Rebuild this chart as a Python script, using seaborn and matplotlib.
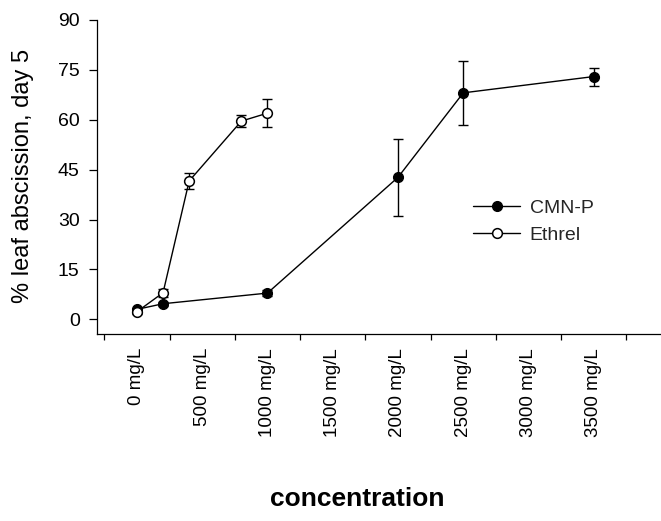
import matplotlib
matplotlib.use("Agg")
import numpy as np
import pandas as pd
import seaborn as sns
import matplotlib.pyplot as plt

# ---- data ----
conc_cmnp = [0, 200, 1000, 2000, 2500, 3500]
abs_cmnp = [3.0, 4.7, 7.9, 42.7, 68.1, 73.0]
err_cmnp = [0.5, 0.6, 0.8, 11.5, 9.7, 2.7]

conc_eth = [0, 200, 400, 800, 1000]
abs_eth = [2.3, 8.0, 41.6, 59.6, 62.0]
err_eth = [0.8, 1.2, 2.3, 1.9, 4.3]

x_tick_values = [0, 500, 1000, 1500, 2000, 2500, 3000, 3500]
x_tick_labels = ["0 mg/L", "500 mg/L", "1000 mg/L", "1500 mg/L",
                 "2000 mg/L", "2500 mg/L", "3000 mg/L", "3500 mg/L"]
y_tick_values = [0, 15, 30, 45, 60, 75, 90]

sns.set_theme(style="ticks")
plt.rcParams["font.family"] = ["Liberation Sans", "DejaVu Sans"]

W, H = 661, 521
fig = plt.figure(figsize=(W / 100, H / 100), dpi=100)
ax = fig.add_axes([97 / W, 1 - 334 / H, 564 / W, 314 / H])

# error bars
ax.errorbar(conc_cmnp, abs_cmnp, yerr=err_cmnp, fmt="none", ecolor="black",
            elinewidth=1, capsize=3.5, capthick=1, zorder=2)
ax.errorbar(conc_eth, abs_eth, yerr=err_eth, fmt="none", ecolor="black",
            elinewidth=1, capsize=3.5, capthick=1, zorder=2)

# lines + markers
sns.lineplot(x=conc_cmnp, y=abs_cmnp, ax=ax, color="black", marker="o",
             markersize=7, markerfacecolor="black", markeredgecolor="black",
             markeredgewidth=1, linewidth=1, label="CMN-P", zorder=3)
sns.lineplot(x=conc_eth, y=abs_eth, ax=ax, color="black", marker="o",
             markersize=7, markerfacecolor="white", markeredgecolor="black",
             markeredgewidth=1.1, linewidth=1, label="Ethrel", zorder=4)

ax.set_xlim(-306, 4015)
ax.set_ylim(-4.4, 90)

sns.despine(ax=ax)
for s in ("left", "bottom"):
    ax.spines[s].set_linewidth(0.9)
    ax.spines[s].set_color("black")

ax.set_xticks(x_tick_values)
ax.set_xticklabels(x_tick_labels, rotation=90, fontsize=13.5)
minor = [v - 250 for v in x_tick_values] + [x_tick_values[-1] + 250]
ax.set_xticks(minor, minor=True)
ax.tick_params(axis="x", which="major", length=0, pad=10, colors="black")
ax.tick_params(axis="x", which="minor", length=4, width=0.9, direction="out",
               color="black")

ax.set_yticks(y_tick_values)
ax.tick_params(axis="y", which="major", length=6, width=0.9, pad=6.5,
               labelsize=14, colors="black")

ax.set_ylabel("% leaf abscission, day 5", fontsize=17, color="black")
ax.yaxis.set_label_coords(-0.112, 0.503)
ax.set_xlabel("concentration", fontsize=19, fontweight="bold", color="black")
ax.xaxis.set_label_coords(0.461, -0.487)

ax.legend(loc="upper left", bbox_to_anchor=(0.667, 0.43), frameon=False,
          fontsize=14, handlelength=2.4, handletextpad=0.5, labelspacing=0.5,
          borderpad=0, borderaxespad=0)

fig.savefig("out.png", dpi=100)
